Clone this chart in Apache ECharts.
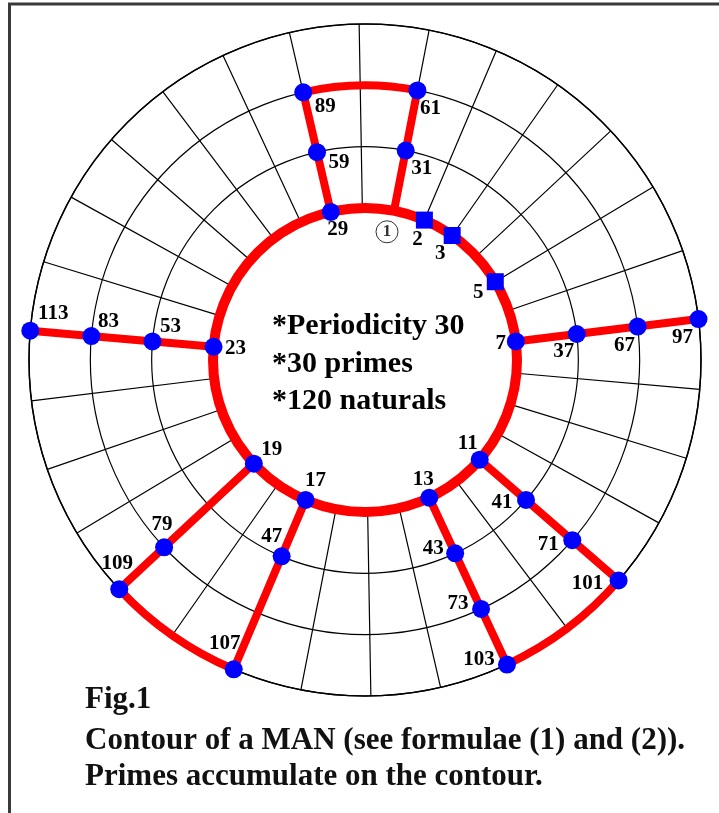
<!DOCTYPE html>
<html>
<head>
<meta charset="utf-8">
<script src="https://cdn.jsdelivr.net/npm/echarts@6/dist/echarts.min.js"></script>
<style>
html,body{margin:0;padding:0;background:#fff;}
#c{width:719px;height:813px;}
</style>
</head>
<body>
<div id="c"></div>
<script>
// ---------- data ----------
const period = 30;
const ringMin = 1;
const ringMax = 4;
const primes   = [2,3,5,7,11,13,17,19,23,29, 31,37,41,43,47,53,59, 61,67,71,73,79,83,89, 97,101,103,107,109,113];
const residues = [2,3,5,7,11,13,17,19,23,29, 1, 7, 11,13,17,23,29, 1, 7, 11,13,19,23,29, 7, 11, 13, 17, 19, 23];
const rings    = [1,1,1,1,1, 1, 1, 1, 1, 1,  2, 2, 2, 2, 2, 2, 2,  3, 3, 3, 3, 3, 3, 3,  4, 4,  4,  4,  4,  4];
const squarePrimes = [2,3,5];
const unitMark = [1, 1, '1'];            // ring, residue, text (circled 1)
// contour: radial spokes [fromRing, residue, toRing]
const spokes = [[1,1,3],[1,29,3],[1,7,4],[1,23,4],[1,11,4],[1,13,4],[1,17,4],[1,19,4]];
// contour: arcs [ring, fromResidue, toResidue] (clockwise)
const arcs = [[1,0,30],[3,29,1],[4,11,13],[4,17,19]];
const centerLines  = ['*Periodicity 30','*30 primes','*120 naturals'];
const captionLines = ['Fig.1','Contour of a MAN (see formulae (1) and (2)).','Primes accumulate on the contour.'];

// ---------- styles / layout ----------
const labelOffset = {
  2:[-7,19], 3:[-12,18], 5:[-17,11], 7:[-15,2], 11:[-12,-16], 13:[-6,-18], 17:[10,-19], 19:[18,-14],
  23:[22,2], 29:[7,18], 31:[16,18], 37:[-13,18], 41:[-24,3], 43:[-22,-5], 47:[-10,-20], 53:[18,-15],
  59:[22,10], 61:[13,18], 67:[-13,19], 71:[-24,4], 73:[-23,-5], 79:[-2,-23], 83:[17,-14], 89:[22,14],
  97:[-16,19], 101:[-31,3], 103:[-28,-5], 107:[-9,-26], 109:[-2,-26], 113:[23,-17]
};
const serif = '"Liberation Serif","Times New Roman",serif';
const RED = '#ff0000', BLUE = '#0000ff';

const chart = echarts.init(document.getElementById('c'), null, {renderer:'canvas'});

const scatterData = primes.map((p, i) => {
  const sq = squarePrimes.indexOf(p) >= 0;
  return {
    name: String(p),
    value: [rings[i], residues[i]],
    symbol: sq ? 'rect' : 'circle',
    symbolSize: sq ? 17 : 18,
    label: { offset: labelOffset[p] }
  };
});

const centerY = [326, 364, 401];
const captionY = [700, 741, 777];

const graphics = [
  {type:'line', silent:true, shape:{x1:8, y1:4, x2:719, y2:4}, style:{stroke:'#3a3a3a', lineWidth:3}},
  {type:'line', silent:true, shape:{x1:9.5, y1:3, x2:9.5, y2:813}, style:{stroke:'#3a3a3a', lineWidth:3}}
];
centerLines.forEach((t, i) => graphics.push({
  type:'text', x:272, y:centerY[i], z:10,
  style:{text:t, font:'bold 30px ' + serif, fill:'#000', verticalAlign:'middle', align:'left'}
}));
captionLines.forEach((t, i) => graphics.push({
  type:'text', x:85, y:captionY[i], z:10,
  style:{text:t, font:'bold 31px ' + serif, fill:'#111', verticalAlign:'middle', align:'left'}
}));

const option = {
  animation: false,
  backgroundColor: '#fff',
  polar: { center: [365, 360], radius: [152, 336] },
  angleAxis: {
    type:'value', min:0, max:period, interval:1, startAngle:91, clockwise:true,
    axisLine:{show:true, lineStyle:{color:'#000', width:1.5}},
    axisTick:{show:false}, axisLabel:{show:false},
    splitLine:{show:true, lineStyle:{color:'#000', width:1.2}}
  },
  radiusAxis: {
    type:'value', min:ringMin, max:ringMax, interval:1,
    axisLine:{show:false}, axisTick:{show:false}, axisLabel:{show:false},
    splitLine:{show:true, lineStyle:{color:'#000', width:1.2}}
  },
  series: [
    {
      type:'custom', coordinateSystem:'polar', z:2, clip:false, silent:true,
      data: spokes,
      renderItem(params, api) {
        const r1 = api.value(0), res = api.value(1), r2 = api.value(2);
        const p1 = api.coord([r1, res]), p2 = api.coord([r2, res]);
        return {type:'line', shape:{x1:p1[0], y1:p1[1], x2:p2[0], y2:p2[1]},
                style:{stroke:RED, lineWidth:8, lineCap:'round', fill:'none'}};
      }
    },
    {
      type:'custom', coordinateSystem:'polar', z:2, clip:false, silent:true,
      data: arcs,
      renderItem(params, api) {
        const cs = params.coordSys;
        const ring = api.value(0), a1 = api.value(1), a2 = api.value(2);
        const p1 = api.coord([ring, a1]), p2 = api.coord([ring, a2]);
        const r = Math.hypot(p1[0]-cs.cx, p1[1]-cs.cy);
        if (a2 - a1 >= period) {
          return {type:'circle', shape:{cx:cs.cx, cy:cs.cy, r:r},
                  style:{stroke:RED, lineWidth:10, fill:'none'}};
        }
        const s = Math.atan2(p1[1]-cs.cy, p1[0]-cs.cx);
        const e = Math.atan2(p2[1]-cs.cy, p2[0]-cs.cx);
        return {type:'arc', shape:{cx:cs.cx, cy:cs.cy, r:r, startAngle:s, endAngle:e, clockwise:true},
                style:{stroke:RED, lineWidth:8, lineCap:'round', fill:'none'}};
      }
    },
    {
      type:'scatter', coordinateSystem:'polar', z:3, silent:true,
      itemStyle:{color:BLUE, opacity:1},
      label:{show:true, position:'inside', formatter:'{b}', color:'#000',
             fontFamily:serif, fontWeight:'bold', fontSize:21, textBorderWidth:0},
      data: scatterData
    },
    {
      type:'scatter', coordinateSystem:'polar', z:3, silent:true,
      symbolSize:1, itemStyle:{color:'rgba(0,0,0,0)'},
      label:{show:true, position:'inside', offset:[-7,21], formatter:'{c|{b}}', color:'#000',
             rich:{c:{width:22, height:22, lineHeight:22, borderRadius:11, borderColor:'#000', borderWidth:1,
                      align:'center', fontSize:17, fontWeight:'bold', fontFamily:serif, color:'#000'}}},
      data: [{name: unitMark[2], value:[unitMark[0], unitMark[1]]}]
    }
  ],
  graphic: graphics
};
chart.setOption(option);
</script>
</body>
</html>
